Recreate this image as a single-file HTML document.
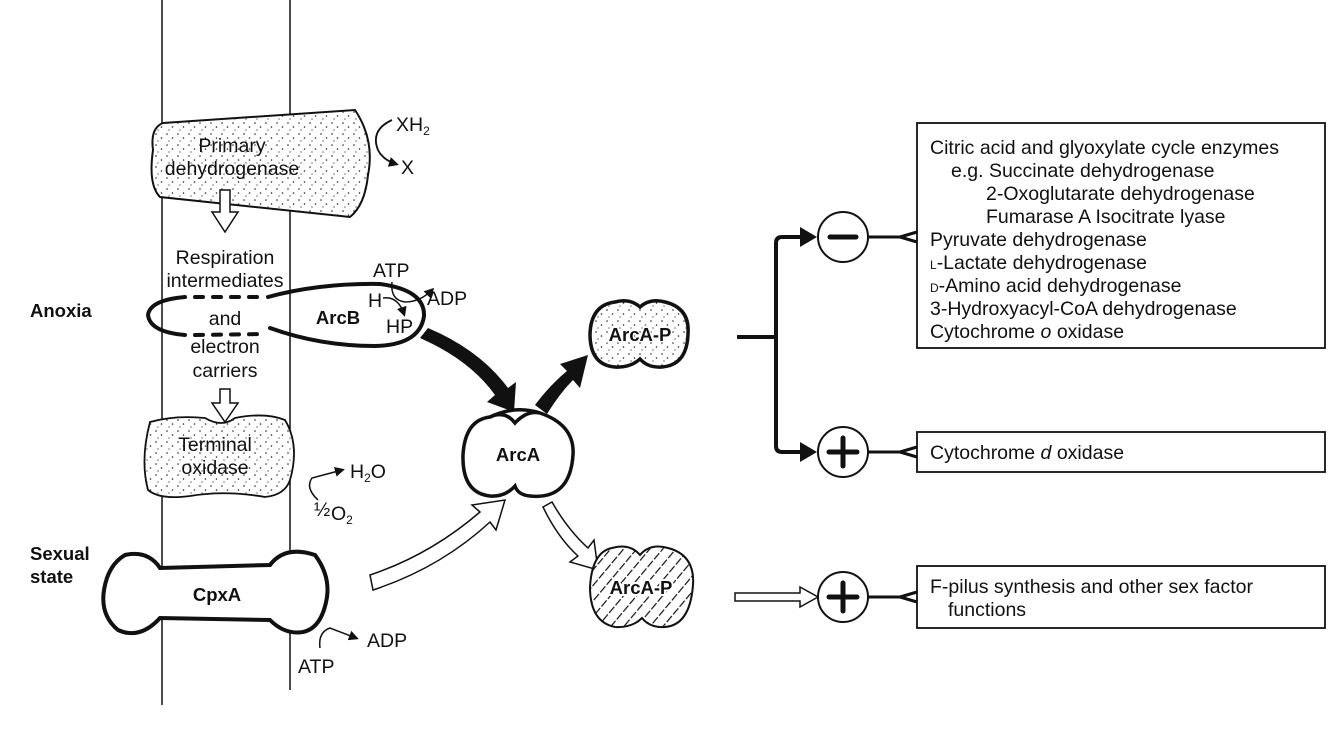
<!DOCTYPE html>
<html><head><meta charset="utf-8"><style>
html,body{margin:0;padding:0;background:#fff;}
svg{display:block;font-family:"Liberation Sans",Arial,sans-serif;}
text{font-size:19.5px;fill:#111;}
.b{font-weight:bold;font-size:18.5px;}
</style></head><body>
<svg width="1334" height="737" viewBox="0 0 1334 737" xmlns="http://www.w3.org/2000/svg">
<defs>
<pattern id="dots" width="11" height="11" patternUnits="userSpaceOnUse">
<circle cx="2" cy="2" r="0.8" fill="#222"/><circle cx="7.5" cy="6" r="0.8" fill="#222"/><circle cx="4" cy="9" r="0.6" fill="#222"/>
</pattern>
<pattern id="hatch" width="10" height="10" patternUnits="userSpaceOnUse" patternTransform="rotate(40)">
<line x1="0" y1="0" x2="0" y2="10" stroke="#111" stroke-width="2.4" stroke-dasharray="8 2"/>
</pattern>
<marker id="ah" markerWidth="10" markerHeight="10" refX="7" refY="5" orient="auto" markerUnits="userSpaceOnUse"><path d="M0,0 L10,5 L0,10 Z" fill="#111"/></marker>
</defs>
<g stroke="#111" fill="none" stroke-width="1.5">
<line x1="162" y1="0" x2="162" y2="705"/>
<line x1="290" y1="0" x2="290" y2="690"/>
</g>
<path d="M163,123 L355,110 Q375,140 368,175 Q365,205 350,217 L160,197 Q148,185 153,150 Q150,128 163,123 Z" fill="#fff" stroke="#111" stroke-width="2"/>
<path d="M163,123 L355,110 Q375,140 368,175 Q365,205 350,217 L160,197 Q148,185 153,150 Q150,128 163,123 Z" fill="url(#dots)"/>
<text x="232" y="152" text-anchor="middle">Primary</text>
<text x="232" y="175" text-anchor="middle">dehydrogenase</text>
<path d="M392,120 Q370,130 378,150 Q383,160 396,164" stroke="#111" stroke-width="1.8" fill="none" marker-end="url(#ah)"/>
<text x="396" y="131">XH<tspan font-size="12" dy="4">2</tspan></text>
<text x="401" y="174">X</text>
<path d="M220,190 L230,190 L230,212 L238,212 L225,232 L212,212 L220,212 Z" fill="#fff" stroke="#111" stroke-width="1.5"/>
<path d="M220,389 L230,389 L230,403 L238,403 L225,422 L212,403 L220,403 Z" fill="#fff" stroke="#111" stroke-width="1.5"/>
<text x="225" y="264" text-anchor="middle">Respiration</text>
<text x="225" y="287" text-anchor="middle">intermediates</text>
<text x="225" y="325" text-anchor="middle">and</text>
<text x="225" y="353" text-anchor="middle">electron</text>
<text x="225" y="377" text-anchor="middle">carriers</text>
<g stroke="#111" stroke-width="4" fill="none" stroke-linecap="round">
<path d="M185,297 Q150,300 148,315 Q150,332 185,335"/>
<path d="M195,297 L265,297" stroke-dasharray="8 10"/>
<path d="M195,335 L265,334" stroke-dasharray="8 10"/>
<path d="M268,297 Q320,283 380,284 Q425,290 424,316 Q420,345 375,346 Q320,346 270,328"/>
</g>
<text x="338" y="324" text-anchor="middle" class="b">ArcB</text>
<text x="368" y="307">H</text>
<text x="386" y="333">HP</text>
<text x="373" y="277">ATP</text>
<text x="427" y="305">ADP</text>
<path d="M392,282 Q390,300 405,302 Q420,302 432,290" stroke="#111" stroke-width="1.5" fill="none" marker-end="url(#ah)"/>
<path d="M383,298 Q398,296 404,314" stroke="#111" stroke-width="1.5" fill="none" marker-end="url(#ah)"/>
<text x="30" y="317" class="b">Anoxia</text>
<path d="M420,338 L428,328 Q480,350 508,388 L516,382 L514,412 L487,402 L495,395 Q470,360 420,338 Z" fill="#111"/>
<path d="M535,405 L547,414 Q560,393 573,380 L580,388 L588,355 L560,364 L567,371 Q550,385 535,405 Z" fill="#111"/>
<path d="M490,417 Q515,405 540,413 Q575,425 573,455 Q570,500 530,496 Q518,495 515,486 Q505,497 490,496 Q462,493 463,455 Q465,420 490,417 Z" fill="#fff" stroke="#111" stroke-width="3.5"/>
<path d="M490,417 Q505,410 515,423 Q527,410 540,413" fill="none" stroke="#111" stroke-width="3.5"/>
<text x="518" y="461" text-anchor="middle" class="b">ArcA</text>
<path d="M615,302 Q630,298 640,307 Q650,298 665,302 Q690,308 688,334 Q687,365 662,367 Q648,368 640,359 Q630,368 615,367 Q590,365 590,334 Q591,305 615,302 Z" fill="#fff" stroke="#111" stroke-width="3.5"/>
<path d="M615,302 Q630,298 640,307 Q650,298 665,302 Q690,308 688,334 Q687,365 662,367 Q648,368 640,359 Q630,368 615,367 Q590,365 590,334 Q591,305 615,302 Z" fill="url(#dots)"/>
<text x="640" y="341" text-anchor="middle" class="b" style="paint-order:stroke" stroke="#fff" stroke-width="3">ArcA-P</text>
<path d="M150,422 Q175,415 205,418 Q222,428 235,418 Q265,412 285,420 Q300,445 290,480 Q285,495 265,497 Q225,490 190,496 Q160,500 148,490 Q140,460 150,422 Z" fill="#fff" stroke="#111" stroke-width="1.8"/>
<path d="M150,422 Q175,415 205,418 Q222,428 235,418 Q265,412 285,420 Q300,445 290,480 Q285,495 265,497 Q225,490 190,496 Q160,500 148,490 Q140,460 150,422 Z" fill="url(#dots)"/>
<text x="215" y="451" text-anchor="middle">Terminal</text>
<text x="215" y="474" text-anchor="middle">oxidase</text>
<path d="M318,500 Q305,488 312,478 L342,470" stroke="#111" stroke-width="1.5" fill="none" marker-end="url(#ah)"/>
<text x="350" y="478">H<tspan font-size="12" dy="4">2</tspan><tspan dy="-4">O</tspan></text>
<text x="314" y="516" font-size="10">½</text><text x="331" y="520">O<tspan font-size="12" dy="4">2</tspan></text>
<path d="M160,568 L270,565 Q285,545 315,555 Q330,575 327,597 Q322,628 303,632 Q285,635 270,620 L160,618 Q140,640 118,630 Q100,615 104,590 Q108,565 125,555 Q148,550 160,568 Z" fill="#fff" stroke="#111" stroke-width="4"/>
<text x="217" y="601" text-anchor="middle" class="b">CpxA</text>
<path d="M320,648 Q318,632 330,628 L356,638" stroke="#111" stroke-width="1.5" fill="none" marker-end="url(#ah)"/>
<text x="367" y="647">ADP</text>
<text x="298" y="673">ATP</text>
<text x="30" y="560" class="b">Sexual</text>
<text x="30" y="583" class="b">state</text>
<path d="M370,575 Q430,555 480,512 L472,505 L505,500 L496,530 L490,522 Q440,568 373,590 Z" fill="#fff" stroke="#111" stroke-width="1.5"/>
<path d="M543,507 L552,502 Q568,530 588,548 L594,540 L598,570 L570,562 L578,556 Q558,538 543,507 Z" fill="#fff" stroke="#111" stroke-width="1.5"/>
<path d="M612,548 Q630,543 640,555 Q650,543 668,548 Q695,555 693,585 Q690,625 665,627 Q650,628 642,618 Q632,628 615,627 Q590,622 590,587 Q592,552 612,548 Z" fill="#fff" stroke="#111" stroke-width="2"/>
<path d="M612,548 Q630,543 640,555 Q650,543 668,548 Q695,555 693,585 Q690,625 665,627 Q650,628 642,618 Q632,628 615,627 Q590,622 590,587 Q592,552 612,548 Z" fill="url(#hatch)"/>
<text x="641" y="594" text-anchor="middle" class="b" style="paint-order:stroke" stroke="#fff" stroke-width="4">ArcA-P</text>
<g stroke="#111" stroke-width="4" fill="none">
<path d="M737,337 L776,337"/>
<path d="M806,237 L782,237 Q776,237 776,243 L776,446 Q776,452 782,452 L806,452"/>
</g>
<path d="M800,227 L817,237 L800,247 Z" fill="#111"/>
<path d="M800,442 L817,452 L800,462 Z" fill="#111"/>
<path d="M735,593 L800,593 L800,587 L818,597 L800,607 L800,601 L735,601 Z" fill="#fff" stroke="#111" stroke-width="1.5"/>
<g stroke="#111" fill="#fff" stroke-width="2">
<circle cx="843" cy="237" r="25"/>
<circle cx="843" cy="452" r="25"/>
<circle cx="843" cy="597" r="25"/>
</g>
<g stroke="#111" stroke-width="5" stroke-linecap="round">
<line x1="830" y1="237" x2="856" y2="237"/>
<line x1="829" y1="452" x2="857" y2="452"/>
<line x1="843" y1="438" x2="843" y2="466"/>
<line x1="829" y1="597" x2="857" y2="597"/>
<line x1="843" y1="583" x2="843" y2="611"/>
</g>
<g stroke="#111" stroke-width="3" fill="none">
<path d="M868,237 L900,237 L917,232 M900,237 L917,242"/>
<path d="M868,452 L900,452 L917,447 M900,452 L917,457"/>
<path d="M868,597 L900,597 L917,592 M900,597 L917,602"/>
</g>
<g stroke="#111" stroke-width="1.8" fill="none">
<rect x="917" y="123" width="408" height="225"/>
<rect x="917" y="432" width="408" height="40"/>
<rect x="917" y="566" width="408" height="62"/>
</g>
<text x="930" y="154">Citric acid and glyoxylate cycle enzymes</text>
<text x="951" y="177">e.g. Succinate dehydrogenase</text>
<text x="986" y="200">2-Oxoglutarate dehydrogenase</text>
<text x="986" y="223">Fumarase A   Isocitrate lyase</text>
<text x="930" y="246">Pyruvate dehydrogenase</text>
<text x="930" y="269"><tspan font-size="12">L</tspan>-Lactate dehydrogenase</text>
<text x="930" y="292"><tspan font-size="12">D</tspan>-Amino acid dehydrogenase</text>
<text x="930" y="315">3-Hydroxyacyl-CoA dehydrogenase</text>
<text x="930" y="338">Cytochrome <tspan font-style="italic">o</tspan> oxidase</text>
<text x="930" y="459">Cytochrome <tspan font-style="italic">d</tspan> oxidase</text>
<text x="930" y="593">F-pilus synthesis and other sex factor</text>
<text x="948" y="616">functions</text>
</svg>
</body></html>
